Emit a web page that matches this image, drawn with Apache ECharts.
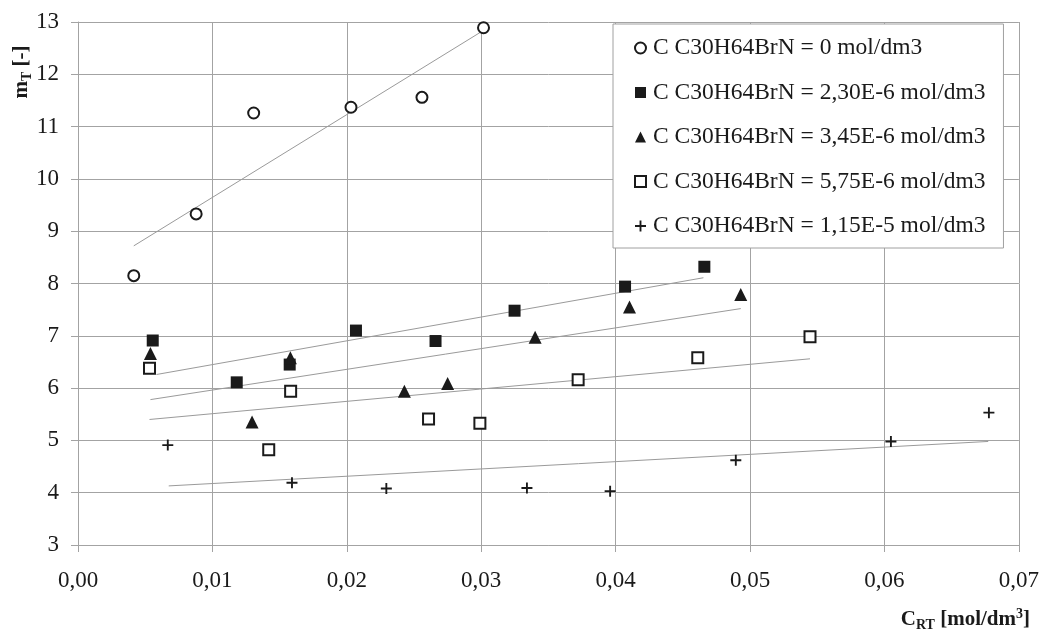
<!DOCTYPE html>
<html>
<head>
<meta charset="utf-8">
<title>m_T vs C_RT</title>
<script src="https://cdn.jsdelivr.net/npm/echarts@6/dist/echarts.min.js"></script>
<style>
  html, body { margin: 0; padding: 0; background: #fff; }
  #chart { width: 1042px; height: 632px; }
</style>
</head>
<body>
<div id="chart"></div>
<script>
// Series labels (concentration of C30H64BrN)
const seriesNames = [
  'C C30H64BrN = 0 mol/dm3',
  'C C30H64BrN = 2,30E-6 mol/dm3',
  'C C30H64BrN = 3,45E-6 mol/dm3',
  'C C30H64BrN = 5,75E-6 mol/dm3',
  'C C30H64BrN = 1,15E-5 mol/dm3'
];

// Measured points: C_RT [mol/dm3] and m_T [-]
const x0 = [0.00415, 0.00879, 0.01307, 0.02031, 0.02559, 0.03017];
const y0 = [8.15, 9.33, 11.26, 11.37, 11.56, 12.89];

const x1 = [0.00556, 0.01181, 0.01575, 0.02068, 0.0266, 0.03248, 0.0407, 0.0466];
const y1 = [6.91, 6.11, 6.45, 7.10, 6.90, 7.48, 7.94, 8.32];

const x2 = [0.00539, 0.01295, 0.0158, 0.02428, 0.0275, 0.03401, 0.04103, 0.04931];
const y2 = [6.66, 5.35, 6.58, 5.94, 6.09, 6.97, 7.55, 7.79];

const x3 = [0.00532, 0.01419, 0.01582, 0.02608, 0.0299, 0.03721, 0.04611, 0.05446];
const y3 = [6.38, 4.82, 5.94, 5.41, 5.33, 6.16, 6.58, 6.98];

const x4 = [0.00668, 0.01592, 0.02294, 0.0334, 0.03959, 0.04894, 0.06048, 0.06777];
const y4 = [4.91, 4.19, 4.08, 4.09, 4.03, 4.62, 4.98, 5.53];

// Linear trend lines: [x start, x end] and [y start, y end]
const trendX0 = [0.00415, 0.03017]; const trendY0 = [8.72, 12.84];
const trendX1 = [0.00584, 0.04653]; const trendY1 = [6.26, 8.11];
const trendX2 = [0.00539, 0.04931]; const trendY2 = [5.78, 7.52];
const trendX3 = [0.00532, 0.05446]; const trendY3 = [5.40, 6.56];
const trendX4 = [0.00675, 0.06772]; const trendY4 = [4.13, 4.98];

// Axis ranges
const xMin = 0, xMax = 0.07, xStep = 0.01;
const yMin = 3, yMax = 13, yStep = 1;

const FONT = '"Liberation Serif", "Times New Roman", serif';
const INK = '#1a1a1a';
const GRID = '#a3a3a3';

const pairs = (xs, ys) => xs.map((v, i) => [v, ys[i]]);

const markerSets = [
  { xs: x0, ys: y0, symbol: 'emptyCircle', size: 11, style: { color: INK, borderColor: INK, borderWidth: 1.8 } },
  { xs: x1, ys: y1, symbol: 'rect', size: 12, style: { color: INK } },
  { xs: x2, ys: y2, symbol: 'triangle', size: 13, style: { color: INK } },
  { xs: x3, ys: y3, symbol: 'emptyRect', size: 11, style: { color: INK, borderColor: INK, borderWidth: 1.8 } },
  { xs: x4, ys: y4, symbol: 'path://M4.15,0H5.85V4.15H10V5.85H5.85V10H4.15V5.85H0V4.15H4.15Z', size: 11, style: { color: INK } }
];

const trends = [
  [trendX0, trendY0], [trendX1, trendY1], [trendX2, trendY2], [trendX3, trendY3], [trendX4, trendY4]
];

const series = [];
trends.forEach(([tx, ty], i) => {
  series.push({
    name: 'trend' + i,
    type: 'line',
    data: pairs(tx, ty),
    symbol: 'none',
    silent: true,
    z: 1,
    lineStyle: { color: '#9a9a9a', width: 1 }
  });
});
markerSets.forEach((m, i) => {
  series.push({
    name: seriesNames[i],
    type: 'scatter',
    data: pairs(m.xs, m.ys),
    symbol: m.symbol,
    symbolSize: m.size,
    z: 3,
    itemStyle: Object.assign({ opacity: 1 }, m.style)
  });
});

// Rich-text styles for axis titles (bold with sub/superscripts)
const titleRich = {
  m: { fontFamily: FONT, fontSize: 21, fontWeight: 'bold', fill: INK, lineHeight: 25, verticalAlign: 'middle' },
  s: { fontFamily: FONT, fontSize: 14, fontWeight: 'bold', fill: INK, lineHeight: 12, verticalAlign: 'bottom' },
  p: { fontFamily: FONT, fontSize: 14, fontWeight: 'bold', fill: INK, lineHeight: 12, verticalAlign: 'top' }
};

const chart = echarts.init(document.getElementById('chart'), null, { renderer: 'canvas' });

chart.setOption({
  animation: false,
  backgroundColor: '#fff',
  grid: { left: 78, right: 23, top: 22, bottom: 87, containLabel: false },
  legend: {
    data: seriesNames,
    orient: 'vertical',
    left: 613,
    top: 24,
    padding: [12, 18, 10, 21],
    itemGap: 20.5,
    itemWidth: 11,
    itemHeight: 11,
    backgroundColor: '#fff',
    borderColor: '#a0a0a0',
    borderWidth: 1,
    selectedMode: false,
    textStyle: { fontFamily: FONT, fontSize: 23.5, color: INK, padding: [0, 0, 0, 2] }
  },
  xAxis: {
    type: 'value',
    min: xMin, max: xMax, interval: xStep,
    axisLine: { show: true, onZero: false, lineStyle: { color: GRID, width: 1 } },
    axisTick: { show: true, inside: false, length: 7, lineStyle: { color: GRID } },
    splitLine: { show: true, lineStyle: { color: GRID, width: 1 } },
    axisLabel: {
      margin: 24,
      fontFamily: FONT, fontSize: 23, color: INK,
      formatter: v => v.toFixed(2).replace('.', ',')
    }
  },
  yAxis: {
    type: 'value',
    min: yMin, max: yMax, interval: yStep,
    axisLine: { show: true, onZero: false, lineStyle: { color: GRID, width: 1 } },
    axisTick: { show: true, inside: false, length: 7, lineStyle: { color: GRID } },
    splitLine: { show: true, lineStyle: { color: GRID, width: 1 } },
    axisLabel: { margin: 19, fontFamily: FONT, fontSize: 23, color: INK }
  },
  graphic: [
    {
      type: 'text',
      x: 22, y: 72,
      rotation: Math.PI / 2,
      style: {
        text: '{m|m}{s|T}{m| [-]}',
        align: 'center',
        verticalAlign: 'middle',
        rich: titleRich
      }
    },
    {
      type: 'text',
      x: 1030, y: 620,
      style: {
        text: '{m|C}{s|RT}{m| [mol/dm}{p|3}{m|]}',
        align: 'right',
        verticalAlign: 'middle',
        rich: titleRich
      }
    }
  ],
  series: series
});
</script>
</body>
</html>
